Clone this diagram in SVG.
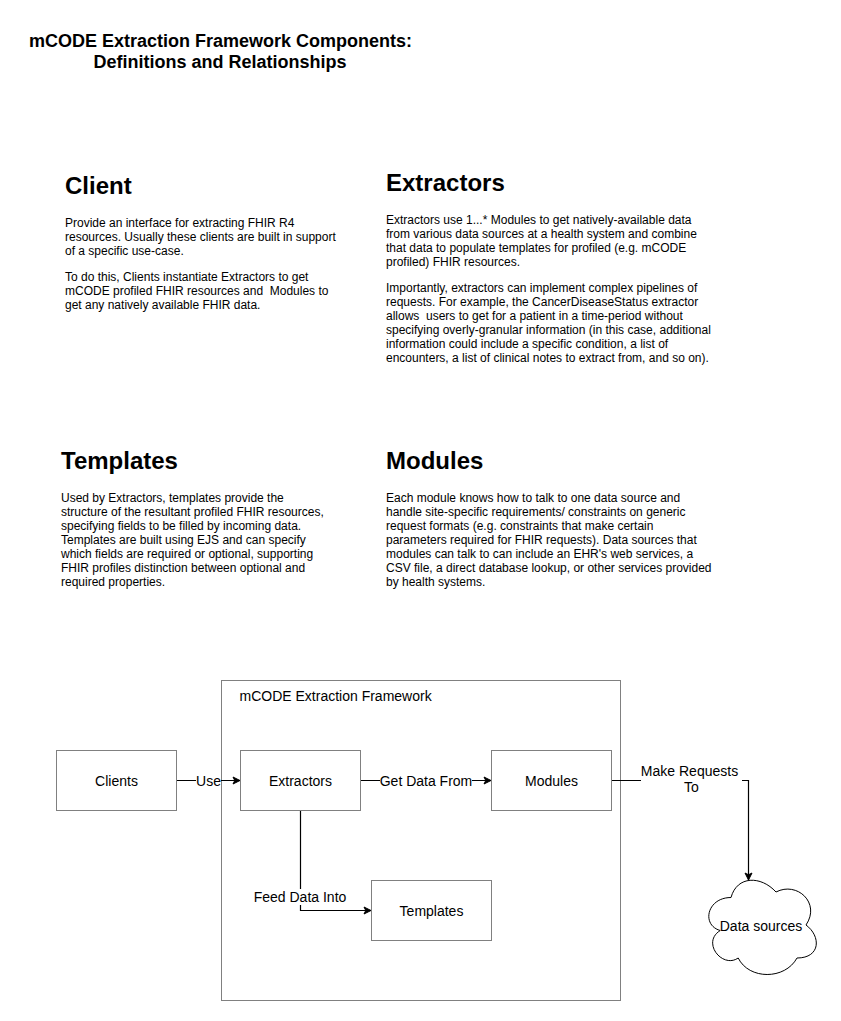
<svg xmlns="http://www.w3.org/2000/svg" width="841" height="1021" viewBox="0 0 841 1021">
<style>
text{font-family:"Liberation Sans",Arial,Helvetica,sans-serif;fill:#000}
.title{font-size:18px;font-weight:bold;text-anchor:middle}
.h{font-size:24px;font-weight:bold}
.b{font-size:12px}
.l{font-size:14px}
.m{text-anchor:middle}
.box{fill:#fff;stroke:#808080;stroke-width:1}
.c{fill:none;stroke:#000;stroke-width:1.2}
.bg{fill:#fff}
</style>
<defs>
<marker id="arrow" markerUnits="userSpaceOnUse" markerWidth="10" markerHeight="10" refX="7" refY="4" orient="auto" overflow="visible">
<path d="M7 4L0 7.5L1.75 4L0 .5Z" fill="#000" stroke="#000" stroke-width="1"/>
</marker>
</defs>
<g id="title"><text class="title" x="220.500" y="47">mCODE Extraction Framework Components:</text><text class="title" x="220" y="68">Definitions and Relationships</text></g>
<g id="def-client"><text class="h" x="65" y="194">Client</text>
<text class="b"><tspan x="65" y="227">Provide an interface for extracting FHIR R4</tspan><tspan x="65" y="241">resources. Usually these clients are built in support</tspan><tspan x="65" y="255">of a specific use-case.</tspan><tspan x="65" y="281">To do this, Clients instantiate Extractors to get</tspan><tspan x="65" y="295" xml:space="preserve">mCODE profiled FHIR resources and  Modules to</tspan><tspan x="65" y="309">get any natively available FHIR data.</tspan></text></g>
<g id="def-extractors"><text class="h" x="386" y="191">Extractors</text>
<text class="b"><tspan x="386" y="224">Extractors use 1...* Modules to get natively-available data</tspan><tspan x="386" y="238">from various data sources at a health system and combine</tspan><tspan x="386" y="252">that data to populate templates for profiled (e.g. mCODE</tspan><tspan x="386" y="266">profiled) FHIR resources.</tspan><tspan x="386" y="292">Importantly, extractors can implement complex pipelines of</tspan><tspan x="386" y="306">requests. For example, the CancerDiseaseStatus extractor</tspan><tspan x="386" y="320" xml:space="preserve">allows  users to get for a patient in a time-period without</tspan><tspan x="386" y="334">specifying overly-granular information (in this case, additional</tspan><tspan x="386" y="348">information could include a specific condition, a list of</tspan><tspan x="386" y="362">encounters, a list of clinical notes to extract from, and so on).</tspan></text></g>
<g id="def-templates"><text class="h" x="61" y="469">Templates</text>
<text class="b"><tspan x="61" y="502">Used by Extractors, templates provide the</tspan><tspan x="61" y="516">structure of the resultant profiled FHIR resources,</tspan><tspan x="61" y="530">specifying fields to be filled by incoming data.</tspan><tspan x="61" y="544">Templates are built using EJS and can specify</tspan><tspan x="61" y="558">which fields are required or optional, supporting</tspan><tspan x="61" y="572">FHIR profiles distinction between optional and</tspan><tspan x="61" y="586">required properties.</tspan></text></g>
<g id="def-modules"><text class="h" x="386" y="469">Modules</text>
<text class="b"><tspan x="386" y="502">Each module knows how to talk to one data source and</tspan><tspan x="386" y="516">handle site-specific requirements/ constraints on generic</tspan><tspan x="386" y="530">request formats (e.g. constraints that make certain</tspan><tspan x="386" y="544">parameters required for FHIR requests). Data sources that</tspan><tspan x="386" y="558">modules can talk to can include an EHR's web services, a</tspan><tspan x="386" y="572">CSV file, a direct database lookup, or other services provided</tspan><tspan x="386" y="586">by health systems.</tspan></text></g>
<g id="framework"><rect class="box" x="221.500" y="680.500" width="399" height="320"/><text class="l" x="239.500" y="701">mCODE Extraction Framework</text></g>
<g id="connectors">
<path class="c" d="M176.500 780.500H240" marker-end="url(#arrow)"/>
<path class="c" d="M360.500 780.500H491" marker-end="url(#arrow)"/>
<path class="c" d="M300.500 810.500V910.500H371" marker-end="url(#arrow)"/>
<path class="c" d="M611.500 780.500H748.500V880" marker-end="url(#arrow)"/>
<rect class="bg" x="196" y="772" width="25" height="17"/><text class="l m" x="208.500" y="786">Use</text>
<rect class="bg" x="380" y="772" width="92" height="17"/><text class="l m" x="426" y="786">Get Data From</text>
<rect class="bg" x="254" y="889" width="92" height="16"/><text class="l m" x="300" y="902">Feed Data Into</text>
<rect class="bg" x="641" y="763" width="101" height="33"/><text class="l m"><tspan x="689.500" y="776">Make Requests</tspan><tspan x="691.500" y="792">To</tspan></text>
</g>
<g id="clients"><rect class="box" x="56.500" y="750.500" width="120" height="60"/><text class="l m" x="116.500" y="786">Clients</text></g>
<g id="extractors"><rect class="box" x="240.500" y="750.500" width="120" height="60"/><text class="l m" x="300.500" y="786">Extractors</text></g>
<g id="modules"><rect class="box" x="491.500" y="750.500" width="120" height="60"/><text class="l m" x="551.500" y="786">Modules</text></g>
<g id="templates"><rect class="box" x="371.500" y="880.500" width="120" height="60"/><text class="l m" x="431.500" y="916">Templates</text></g>
<g id="data-sources"><path d="M731 897.500C707 897.500 701 925 720.200 930.500C701 942.600 722.600 969 738.200 958C749 980 785 980 797 958C821 958 821 936 806 925C821 903 797 881 776 892C761 875.500 737 875.500 731 897.500Z" fill="#fff" stroke="#000" stroke-width="1"/><text class="l m" x="761" y="931">Data sources</text></g>
</svg>
